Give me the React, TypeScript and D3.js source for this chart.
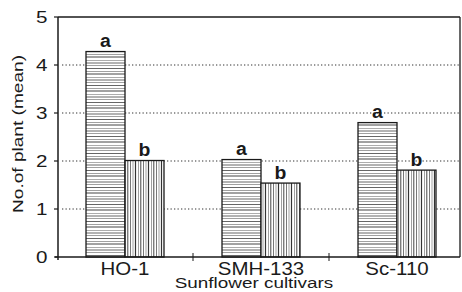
import React from "react";
import * as d3 from "d3";

const categories = ["HO-1", "SMH-133", "Sc-110"];
const seriesKeys = ["s1", "s2"];
const series1 = [4.28, 2.03, 2.8];
const series2 = [2.01, 1.54, 1.81];
const letters1 = ["a", "a", "a"];
const letters2 = ["b", "b", "b"];
const yTicks = [0, 1, 2, 3, 4, 5];
const gridTicks = [1, 2, 3, 4];
const xTitle = "Sunflower cultivars";
const yTitle = "No.of plant (mean)";

const W = 462;
const H = 292;
const FONT = "'Liberation Sans', Arial, Helvetica, sans-serif";
const INK = "#1a1a1a";

export default function App() {
  const y = d3.scaleLinear().domain([0, 5]).range([257, 17]);
  const x = d3.scaleBand<string>().domain(categories).range([57, 465]).padding(0);
  const xs = d3
    .scaleBand<string>()
    .domain(seriesKeys)
    .range([0, x.bandwidth()])
    .paddingInner(0)
    .paddingOuter(0.744);

  const left = 58;
  const right = 460;
  const top = y(5);
  const bottom = y(0);

  const bars = categories.flatMap((c, i) => [
    { c, key: "s1", v: series1[i], l: letters1[i] },
    { c, key: "s2", v: series2[i], l: letters2[i] },
  ]);

  const stretchText = (
    tx: number,
    ty: number,
    txt: string,
    size: number,
    anchor: string,
    sx: number,
    extra: any = {},
    rotate = 0
  ) => (
    <text
      transform={`translate(${tx},${ty}) rotate(${rotate}) scale(${sx},1)`}
      fontSize={size}
      fontFamily={FONT}
      textAnchor={anchor}
      fill={INK}
      {...extra}
    >
      {txt}
    </text>
  );

  return (
    <svg
      width={W}
      height={H}
      style={{ position: "absolute", left: 0, top: 0, background: "#fff" }}
    >
      <defs>
        <pattern id="hatchH" patternUnits="userSpaceOnUse" width={8} height={17}>
          <rect width={8} height={17} fill="#fff" />
          <line x1={0} x2={8} y1={0.5} y2={0.5} stroke="#555" strokeWidth={0.9} />
          <line x1={0} x2={8} y1={3.5} y2={3.5} stroke="#777" strokeWidth={0.7} />
          <line x1={0} x2={8} y1={6} y2={6} stroke="#444" strokeWidth={1} />
          <line x1={0} x2={8} y1={9.5} y2={9.5} stroke="#888" strokeWidth={0.7} />
          <line x1={0} x2={8} y1={12} y2={12} stroke="#555" strokeWidth={0.9} />
          <line x1={0} x2={8} y1={14.5} y2={14.5} stroke="#777" strokeWidth={0.7} />
        </pattern>
        <pattern id="hatchV" patternUnits="userSpaceOnUse" width={13} height={8}>
          <rect width={13} height={8} fill="#fff" />
          <line y1={0} y2={8} x1={0.5} x2={0.5} stroke="#555" strokeWidth={0.8} />
          <line y1={0} y2={8} x1={3} x2={3} stroke="#777" strokeWidth={0.7} />
          <line y1={0} y2={8} x1={5.5} x2={5.5} stroke="#333" strokeWidth={1.2} />
          <line y1={0} y2={8} x1={8.5} x2={8.5} stroke="#777" strokeWidth={0.7} />
          <line y1={0} y2={8} x1={10.8} x2={10.8} stroke="#444" strokeWidth={1} />
        </pattern>
      </defs>

      {/* grid lines */}
      {gridTicks.map((t) => (
        <line
          key={"g" + t}
          x1={left + 4}
          x2={right}
          y1={y(t)}
          y2={y(t)}
          stroke="#333"
          strokeWidth={1.2}
          strokeDasharray="1.3 2.2"
        />
      ))}

      {/* bars */}
      {bars.map((b, i) => {
        const bx = (x(b.c) as number) + (xs(b.key) as number);
        const bw = xs.bandwidth();
        return (
          <g key={"b" + i}>
            <rect
              x={bx}
              y={y(b.v)}
              width={bw}
              height={bottom - y(b.v)}
              fill={b.key === "s1" ? "url(#hatchH)" : "url(#hatchV)"}
              stroke={INK}
              strokeWidth={1.3}
            />
            {stretchText(bx + bw / 2, y(b.v) - 4.5, b.l, 18.5, "middle", 1.05, {
              fontWeight: "bold",
            })}
          </g>
        );
      })}

      {/* frame */}
      <line x1={left} x2={right} y1={top} y2={top} stroke={INK} strokeWidth={1.5} />
      <line x1={right} x2={right} y1={top} y2={bottom} stroke={INK} strokeWidth={1.3} />
      <line x1={left} x2={left} y1={top} y2={bottom + 3} stroke={INK} strokeWidth={1.5} />
      <line x1={left - 3} x2={right} y1={bottom} y2={bottom} stroke={INK} strokeWidth={1.5} />

      {/* y ticks */}
      {yTicks.map((t) => (
        <g key={"yt" + t}>
          <line x1={left - 4} x2={left} y1={y(t)} y2={y(t)} stroke={INK} strokeWidth={1.2} />
          {stretchText(47.5, y(t) + 6, String(t), 16.5, "end", 1.25)}
        </g>
      ))}

      {/* x category boundary ticks */}
      {categories.slice(1).map((c) => (
        <line
          key={"xt" + c}
          x1={x(c) as number}
          x2={x(c) as number}
          y1={bottom - 4}
          y2={bottom + 4}
          stroke={INK}
          strokeWidth={1}
        />
      ))}

      {/* x labels */}
      {categories.map((c) => (
        <g key={"xl" + c}>
          {stretchText((x(c) as number) + x.bandwidth() / 2, 275, c, 17.5, "middle", 1.17)}
        </g>
      ))}

      {stretchText(254, 287.5, xTitle, 15, "middle", 1.26)}
      {stretchText(23, 134, yTitle, 15.4, "middle", 1.24, {}, -90)}
    </svg>
  );
}
